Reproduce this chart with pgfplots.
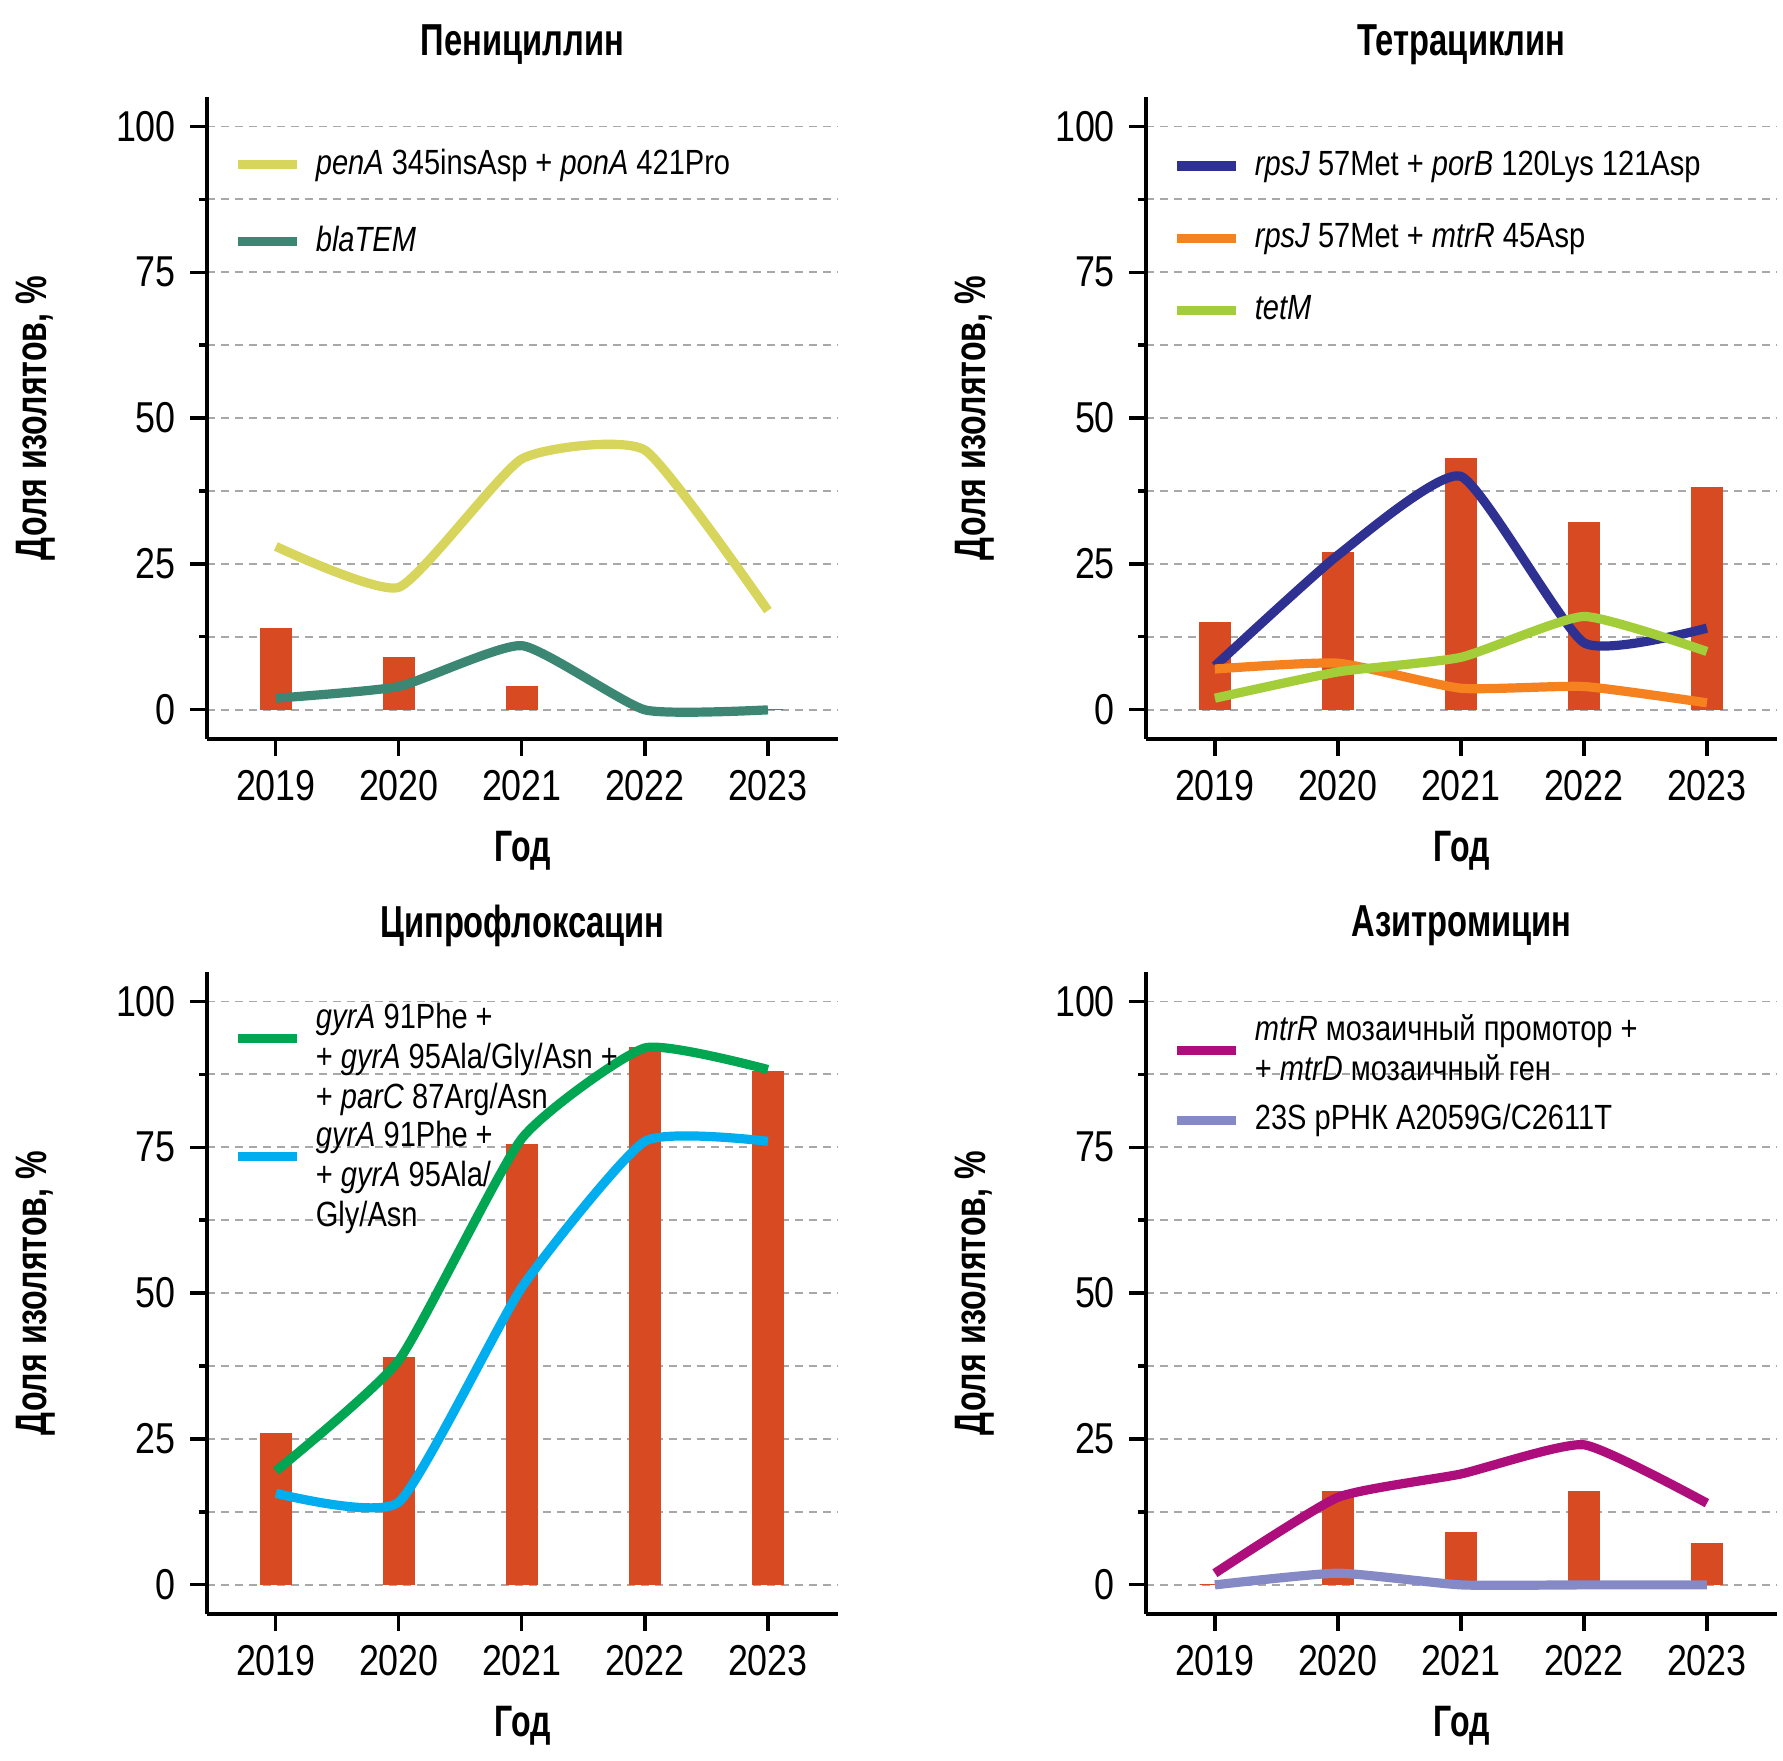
\documentclass[border=0pt]{standalone}
\usepackage{fontspec}
\setmainfont{Liberation Sans}[FakeStretch=0.83]
\newfontfamily\headfont{Liberation Sans}[FakeStretch=0.73]
\usepackage{pgfplots}
\pgfplotsset{compat=1.18}

\definecolor{barc}{HTML}{D84A21}
\definecolor{gridc}{HTML}{A8A8A8}
\definecolor{penc}{HTML}{D7D55C}
\definecolor{temc}{HTML}{3B8774}
\definecolor{porc}{HTML}{2E3192}
\definecolor{mtrc}{HTML}{F5821F}
\definecolor{tetc}{HTML}{A3CD39}
\definecolor{gyr3c}{HTML}{00A651}
\definecolor{gyr2c}{HTML}{00AEEF}
\definecolor{mosc}{HTML}{AE0E7B}
\definecolor{rnac}{HTML}{8589C5}

\pgfplotsset{
  panel/.style={
    scale only axis, width=157.75pt, height=160.5pt,
    xmin=2018.44, xmax=2023.57, ymin=-5, ymax=105,
    axis lines*=left,
    axis line style={line width=0.83pt, black},
    tick align=outside,
    major tick length=4.25pt, minor tick length=2pt,
    major tick style={black, line width=0.8pt},
    minor tick style={black, line width=0.8pt},
    xtick={2019,2020,2021,2022,2023},
    ytick={0,25,50,75,100},
    minor ytick={12.5,37.5,62.5,87.5},
    ymajorgrids, yminorgrids,
    major grid style={dash pattern=on 2pt off 1.5pt, color=gridc, line width=0.35pt},
    minor grid style={dash pattern=on 2pt off 1.5pt, color=gridc, line width=0.35pt},
    tick label style={font=\fontsize{10.8}{12}\selectfont, /pgf/number format/assume math mode=true},
    xticklabel style={/pgf/number format/1000 sep={}},
    title style={font=\headfont\bfseries\fontsize{11.2}{13}\selectfont, at={(axis description cs:0.5,1.0436)}, anchor=center},
    xlabel style={font=\headfont\bfseries\fontsize{11}{13}\selectfont, at={(axis description cs:0.5,-0.1745)}, anchor=center},
    ylabel style={font=\headfont\bfseries\fontsize{11}{13}\selectfont, at={(axis description cs:-0.271,0.5)}, anchor=center},
    xlabel={Год}, ylabel={Доля изолятов, \%},
    legend style={draw=none, fill=none, inner sep=0pt, font=\fontsize{8.75}{10}\selectfont,
      cells={align=left, anchor=west}, column sep=1.5pt},
    legend image code/.code={\draw[#1, line width=2.3pt] (0pt,0pt) -- (14.75pt,0pt);},
  },
  bars/.style={ybar, bar width=7.7pt, fill=barc, draw=barc, line width=0.3pt, forget plot},
  curve/.style={smooth, tension=0.3, line width=2.3pt},
}

\begin{document}
\begin{tikzpicture}
\path[use as bounding box] (0pt,0pt) rectangle (445.75pt,-440pt);

% Пенициллин
\begin{axis}[panel, at={(51.75pt,-184.75pt)}, anchor=south west,
  title={Пенициллин},
  legend style={at={(axis description cs:0.041,0.933)}, anchor=north west, row sep=7.5pt}]
\addplot[bars] coordinates {(2019,14)(2020,9)(2021,4)(2022,0)(2023,0)};
\addplot[penc, curve] coordinates {(2019,28)(2020,21)(2021,43)(2022,44.5)(2023,17)};
\addlegendentry{\textit{penA} 345insAsp + \textit{ponA} 421Pro}
\addplot[temc, curve] coordinates {(2019,2)(2020,4)(2021,11)(2022,0)(2023,0)};
\addlegendentry{\textit{blaTEM}}
\end{axis}

% Тетрациклин
\begin{axis}[panel, at={(286.5pt,-184.75pt)}, anchor=south west,
  title={Тетрациклин},
  legend style={at={(axis description cs:0.041,0.93)}, anchor=north west, row sep=6.5pt}]
\addplot[bars] coordinates {(2019,15)(2020,27)(2021,43)(2022,32)(2023,38)};
\addplot[porc, curve] coordinates {(2019,7.5)(2020,26.5)(2021,40)(2022,11.5)(2023,14)};
\addlegendentry{\textit{rpsJ} 57Met + \textit{porB} 120Lys 121Asp}
\addplot[mtrc, curve] coordinates {(2019,7)(2020,8)(2021,3.7)(2022,4)(2023,1.2)};
\addlegendentry{\textit{rpsJ} 57Met + \textit{mtrR} 45Asp}
\addplot[tetc, curve] coordinates {(2019,2)(2020,6.5)(2021,9)(2022,16)(2023,10)};
\addlegendentry{\textit{tetM}}
\end{axis}

% Ципрофлоксацин
\begin{axis}[panel, at={(51.75pt,-403.5pt)}, anchor=south west,
  title={Ципрофлоксацин}, title style={at={(axis description cs:0.5,1.034)}},
  legend image code/.code={\path[draw=none] (0pt,-5pt) -- (0pt,5pt); \draw[#1, line width=2.3pt] (0pt,5pt) -- (14.75pt,5pt);},
  legend style={at={(axis description cs:0.041,0.966)}, anchor=north west, row sep=-2.3pt}]
\addplot[bars] coordinates {(2019,26)(2020,39)(2021,75.5)(2022,92)(2023,88)};
\addplot[gyr3c, curve] coordinates {(2019,19.5)(2020,38.5)(2021,76.5)(2022,92)(2023,88.3)};
\addlegendentry{\textit{gyrA} 91Phe +\\+ \textit{gyrA} 95Ala/Gly/Asn +\\+ \textit{parC} 87Arg/Asn}
\addplot[gyr2c, curve] coordinates {(2019,15.7)(2020,14.2)(2021,51)(2022,76)(2023,76)};
\addlegendentry{\textit{gyrA} 91Phe +\\+ \textit{gyrA} 95Ala/\\Gly/Asn}
\end{axis}

% Азитромицин
\begin{axis}[panel, at={(286.5pt,-403.5pt)}, anchor=south west,
  title={Азитромицин}, title style={at={(axis description cs:0.5,1.034)}},
  legend style={at={(axis description cs:0.041,0.948)}, anchor=north west, row sep=0.6pt}]
\addplot[bars] coordinates {(2019,0)(2020,16)(2021,9)(2022,16)(2023,7)};
\addplot[mosc, curve] coordinates {(2019,2)(2020,15)(2021,19)(2022,24)(2023,14)};
\addlegendentry{\textit{mtrR} мозаичный промотор +\\+ \textit{mtrD} мозаичный ген}
\addplot[rnac, curve] coordinates {(2019,0)(2020,2)(2021,0)(2022,0)(2023,0)};
\addlegendentry{23S рРНК A2059G/C2611T}
\end{axis}
\end{tikzpicture}
\end{document}
